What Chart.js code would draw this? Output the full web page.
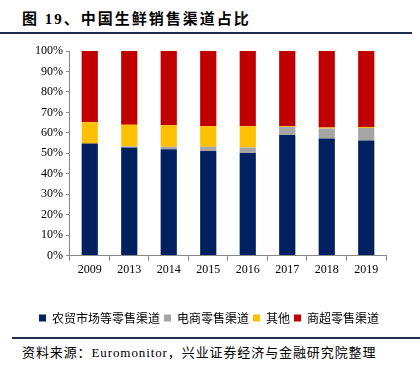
<!DOCTYPE html>
<html>
<head>
<meta charset="utf-8">
<script src="https://cdn.jsdelivr.net/npm/chart.js@4.4.0/dist/chart.umd.min.js"></script>
<style>
  html, body { margin: 0; padding: 0; background: #fff; }
  body { width: 420px; height: 368px; position: relative; overflow: hidden; }
  #title {
    position: absolute; left: 22px; top: 7px;
    font: bold 15px "Liberation Serif", "Noto Sans CJK SC", serif;
    color: #000; letter-spacing: 2px;
  }
  #titleLine { position: absolute; left: 0; top: 32px; width: 412px; height: 2px; background: #1f2d4d; }
  #wrap { position: absolute; left: 0; top: 36px; width: 420px; height: 298px; }
  #srcLine { position: absolute; left: 12px; top: 337px; width: 408px; height: 2px; background: #1f2d4d; }
  #source {
    position: absolute; left: 22px; top: 342px;
    font: 13px "Liberation Serif", "Noto Sans CJK SC", serif; color: #000;
    letter-spacing: 0.9px;
  }
</style>
</head>
<body>
<div id="title">图 19、中国生鲜销售渠道占比</div>
<div id="titleLine"></div>
<div id="wrap"><canvas id="chart"></canvas></div>
<div id="srcLine"></div>
<div id="source">资料来源：Euromonitor，兴业证券经济与金融研究院整理</div>
<script>
// categories and series (percent of total)
const years = ['2009', '2013', '2014', '2015', '2016', '2017', '2018', '2019'];
const wetMarket = [54.8, 52.8, 52.0, 51.1, 50.1, 59.0, 57.2, 56.3];
const ecommerce = [0.0, 0.5, 1.2, 2.1, 2.7, 3.8, 4.9, 6.1];
const others = [10.4, 10.6, 10.5, 10.2, 10.4, 0.4, 0.5, 0.5];
const supermarket = [34.8, 36.1, 36.3, 36.6, 36.8, 36.8, 37.4, 37.1];
const yTicks = [0, 10, 20, 30, 40, 50, 60, 70, 80, 90, 100];

const tickFont = { family: '"Liberation Serif", serif', size: 12 };
const cjkFont = { family: '"Noto Sans CJK SC", sans-serif', size: 12 };

function ds(label, data, color) {
    return {
        label: label,
        data: data,
        backgroundColor: color,
        borderColor: color,
        borderWidth: 0,
        barPercentage: 0.41,
        categoryPercentage: 1.0
    };
}

const ctx = document.getElementById('chart').getContext('2d');
new Chart(ctx, {
    type: 'bar',
    data: {
        labels: years,
        datasets: [
            ds('农贸市场等零售渠道', wetMarket, '#002060'),
            ds('电商零售渠道', ecommerce, '#a5a5a5'),
            ds('其他', others, '#ffc000'),
            ds('商超零售渠道', supermarket, '#c00000')
        ]
    },
    options: {
        responsive: true,
        maintainAspectRatio: false,
        animation: false,
        layout: { padding: { left: 32, right: 34, top: 15, bottom: 0 } },
        plugins: {
            tooltip: { enabled: false },
            legend: {
                position: 'bottom',
                labels: {
                    boxWidth: 7,
                    boxHeight: 7,
                    padding: 4,
                    color: '#000',
                    font: cjkFont
                }
            }
        },
        scales: {
            x: {
                stacked: true,
                offset: true,
                afterFit: function (axis) {
                    // leave the empty band between the year labels and the legend
                    axis.height += 29;
                },
                grid: {
                    offset: true,
                    drawOnChartArea: false,
                    drawTicks: true,
                    tickLength: 5,
                    color: '#888'
                },
                border: { color: '#888', width: 1 },
                ticks: { color: '#000', font: tickFont, padding: 2, maxRotation: 0 }
            },
            y: {
                stacked: true,
                min: 0,
                max: 100,
                afterBuildTicks: function (axis) {
                    axis.ticks = yTicks.map(v => ({ value: v }));
                },
                grid: {
                    drawOnChartArea: false,
                    drawTicks: true,
                    tickLength: 4,
                    color: '#888'
                },
                border: { color: '#888', width: 1 },
                ticks: {
                    color: '#000',
                    font: tickFont,
                    padding: 3,
                    callback: v => v + '%'
                }
            }
        }
    }
});
</script>
</body>
</html>
